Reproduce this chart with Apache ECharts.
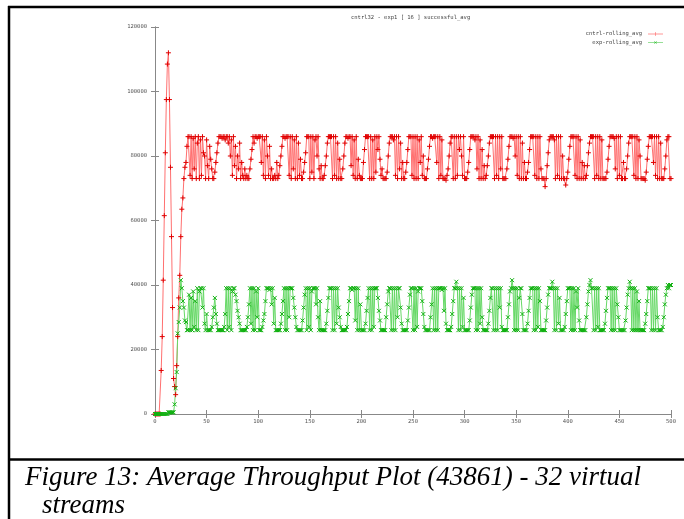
<!DOCTYPE html>
<html>
<head>
<meta charset="utf-8">
<script src="https://cdn.jsdelivr.net/npm/echarts@6/dist/echarts.min.js"></script>
<style>
  html, body { margin: 0; padding: 0; background: #fff; }
  #main { width: 684px; height: 519px; }
</style>
</head>
<body>
<div id="main"></div>
<script>
// values, in thousands, one point per x step (x = 0..500)
var cntrlAvg = [
    0, 0, 0, 0, 0, 0, 13.5, 24, 41.5, 61.5,
    81, 97.5, 108.5, 112, 97.5, 76.5, 55, 33, 11, 8.5,
    6, 15, 24, 36, 43, 55, 63.5, 67, 73, 76.5,
    78, 83, 86,
    86, 74, 86, 73, 85.5, 76, 86, 73, 84, 86,
    73, 85, 74, 86, 81, 80, 73, 85, 77, 73,
    83, 79, 76, 73, 73, 75, 78, 81, 84, 86,
    86, 86, 85.5, 86, 86, 85, 86, 86, 84, 86,
    80, 85, 74, 86, 77, 83, 73, 80, 76, 84,
    73, 78, 74, 73, 76, 73, 74, 73, 73, 76,
    79, 82, 86, 84, 86, 86, 85.5, 86, 86, 86,
    78, 86, 74, 85, 73, 86, 80, 74, 83, 73,
    76, 73, 73, 74, 73, 78, 73, 74, 77, 80,
    83, 86, 86, 85.5, 86, 86, 86, 74, 86, 73,
    86, 76, 85, 73, 86, 73, 84, 74, 79, 73,
    73, 75, 78, 81, 86, 86, 86, 73, 86, 75,
    86, 73, 85, 86, 80, 86, 76, 73, 77, 73,
    73, 74, 77, 80, 84, 86, 86, 86, 86, 73,
    86, 74, 86, 73, 84, 73, 79, 73, 73, 76,
    80, 84, 86, 86, 85.5, 86, 86, 77, 86, 74,
    85, 73, 86, 73, 79, 74, 73, 73, 73, 78,
    82, 86, 86, 86, 86, 73, 86, 73, 85, 73,
    86, 75, 86, 82, 86, 79, 74, 76, 73, 73,
    73, 73, 75, 80, 84, 86, 86, 86, 85, 86,
    74, 86, 73, 86, 76, 84, 73, 78, 73, 73,
    75, 78, 82, 86, 86, 86, 74, 86, 73, 86,
    73, 86, 73, 85, 78, 86, 74, 80, 73, 73,
    73, 76, 79, 83, 86, 86, 85.5, 86, 86, 86,
    78, 86, 73, 86, 74, 85, 73, 73, 73, 72.5,
    74, 76, 80, 84, 86, 86, 73, 86, 73, 86,
    74, 86, 82, 86, 80, 74, 86, 73, 73, 73,
    75, 78, 82, 86, 86, 86, 86, 85, 86, 76,
    86, 73, 85, 73, 82, 73, 77, 73, 74, 77,
    80, 84, 86, 86, 86, 86, 73, 86, 74, 86,
    73, 86, 76, 86, 73, 73, 73, 73, 76, 79,
    83, 86, 86, 86, 85.5, 86, 80, 86, 74, 86,
    73, 86, 73, 84, 73, 78, 73, 73, 75, 78,
    82, 86, 86, 86, 86, 74, 86, 73, 86, 73,
    86, 76, 73, 73, 73, 70.5, 73, 77, 81, 85,
    86, 86, 86, 86, 85, 73, 86, 74, 86, 73,
    86, 73, 80, 73, 73, 71, 73, 75, 79, 83,
    86, 86, 86, 86, 74, 86, 73, 86, 73, 85,
    73, 78, 73, 77, 73, 74, 77, 81, 84, 86,
    86, 86, 86, 73, 86, 74, 86, 73, 86, 73,
    85, 73, 73, 73, 73, 75, 79, 83, 86, 86,
    86, 86, 85.5, 76, 86, 73, 86, 74, 86, 73,
    73, 78, 73, 73, 76, 80, 84, 86, 86, 86,
    86, 74, 86, 73, 86, 73, 85, 80, 73, 73,
    73, 73, 72.5, 75, 79, 83, 86, 86, 86, 86,
    78, 86, 74, 86, 73, 86, 73, 84, 73, 73,
    73, 76, 80, 85, 86, 86, 73, 73
];
var expAvg = [
    0, 0, 0, 0, 0, 0, 0, 0, 0, 0,
    0, 0, 0, 0.5, 0.5, 0.5, 0.5, 0.5, 0.5, 3,
    8, 13, 25, 28.5, 33, 41.5, 39, 35, 33, 29,
    28.5, 26, 26,
    37, 26, 36, 26, 38, 27, 35, 26, 39, 26,
    38, 39, 39, 33, 39, 28, 26, 31, 26, 26,
    26, 26, 27, 30, 33, 36, 31, 28, 26, 26,
    26, 26, 26, 26, 27, 31, 39, 26, 39, 27,
    39, 26, 38, 39, 39, 37, 35, 32, 30, 28,
    26, 26, 26, 26, 26, 26, 27, 30, 34, 39,
    28, 39, 26, 39, 26, 38, 30, 39, 26, 26,
    26, 27, 29, 31, 35, 39, 39, 39, 38.5, 39,
    34, 39, 28, 36, 26, 26, 26, 26, 26, 28,
    31, 35, 39, 26, 39, 26, 39, 30, 39, 39,
    39, 36, 33, 30, 27, 26, 26, 26, 26, 26,
    29, 33, 37, 39, 26, 39, 27, 39, 26, 38,
    39, 39, 39, 34, 39, 30, 26, 35, 26, 26,
    26, 26, 26, 28, 32, 36, 39, 39, 39, 26,
    39, 26, 39, 28, 39, 33, 30, 27, 26, 26,
    26, 26, 26, 27, 31, 35, 39, 39, 38.5, 39,
    39, 29, 39, 26, 39, 26, 34, 26, 26, 26,
    26, 28, 32, 36, 39, 26, 39, 26, 39, 27,
    39, 39, 39, 36, 32, 29, 26, 26, 26, 26,
    26, 30, 34, 38, 39, 39, 26, 39, 26, 39,
    26, 39, 30, 39, 39, 33, 28, 26, 26, 26,
    26, 26, 29, 33, 37, 39, 39, 26, 39, 26,
    39, 27, 38, 39, 39, 39, 35, 31, 27, 26,
    26, 26, 26, 26, 30, 34, 39, 26, 39, 26,
    39, 26, 39, 39, 39, 38.5, 39, 32, 39, 28,
    26, 26, 26, 26, 27, 31, 35, 39, 39, 41,
    39, 26, 39, 26, 39, 27, 36, 26, 26, 26,
    26, 26, 29, 33, 37, 39, 39, 39, 26, 39,
    26, 39, 28, 39, 30, 26, 26, 26, 26, 26,
    28, 32, 36, 39, 39, 26, 39, 26, 39, 26,
    39, 33, 39, 27, 26, 26, 26, 26, 26, 30,
    34, 38, 39, 41.5, 39, 26, 39, 26, 39, 26,
    36, 39, 39, 31, 26, 26, 26, 26, 28, 32,
    36, 39, 39, 39, 26, 39, 26, 39, 27, 39,
    35, 26, 26, 26, 26, 26, 29, 33, 37, 39,
    39, 39, 41, 39, 26, 39, 26, 39, 28, 36,
    26, 26, 26, 26, 27, 31, 35, 39, 39, 39,
    26, 39, 26, 39, 26, 38, 33, 39, 29, 26,
    26, 26, 26, 26, 26, 30, 34, 38, 40, 41.5,
    39, 39, 26, 39, 26, 39, 27, 39, 26, 26,
    26, 26, 26, 28, 32, 36, 39, 39, 39, 26,
    39, 26, 39, 26, 39, 34, 30, 26, 26, 26,
    26, 26, 26, 29, 33, 37, 39, 41, 39, 26,
    39, 26, 39, 26, 38, 26, 35, 26, 26, 26,
    26, 26, 28, 31, 35, 39, 39, 39, 26, 39,
    26, 39, 26, 39, 30, 26, 26, 26, 26, 27,
    30, 34, 37, 39, 40, 39, 40, 40
];
var seriesNames = ['cntrl-rolling_avg', 'exp-rolling_avg'];
var chartTitle = 'cntrl32 - exp1 [ 16 ] successful_avg';
var captionLines = ['Figure 13: Average Throughput Plot (43861) - 32 virtual', 'streams'];

(function () {
    var myChart = echarts.init(document.getElementById('main'), null, { renderer: 'canvas' });

    // x = index of the point, y converted from thousands
    function toPairs(arr) {
        return arr.map(function (v, i) { return [i, v * 1000]; });
    }

    var tickFont = { fontSize: 5.5, color: '#555', fontFamily: 'DejaVu Sans Mono' };
    var plusPath = 'path://M0,5L10,5M5,0L5,10';
    var crossPath = 'path://M0,0L10,10M10,0L0,10';
    // legend keys: line sample with the point mark in the middle (thin filled shapes)
    var plusKey = 'path://M0,4.6H30V5.4H0Z M14.6,1H15.4V9H14.6Z';
    var crossKey = 'path://M0,4.6H30V5.4H0Z M12,2.4L12.6,1.8L18,7.6L17.4,8.2Z M17.4,1.8L18,2.4L12.6,8.2L12,7.6Z';

    var option = {
        animation: false,
        grid: { left: 155, top: 27, width: 516, height: 387 },
        legend: {
            right: 21, top: 31, orient: 'vertical', align: 'right', padding: 0,
            itemWidth: 15, itemHeight: 5, itemGap: 2.5,
            textStyle: { fontSize: 5.5, color: '#444', fontFamily: 'DejaVu Sans Mono', padding: [0, 1, 0, 0] },
            data: [
                { name: seriesNames[0], icon: plusKey, itemStyle: { color: '#ff3030', borderWidth: 0 } },
                { name: seriesNames[1], icon: crossKey, itemStyle: { color: '#30c030', borderWidth: 0 } }
            ]
        },
        xAxis: [{
            type: 'value', min: 0, max: 500, interval: 50,
            axisLine: { lineStyle: { color: '#888' } },
            axisTick: { inside: true, length: 4, lineStyle: { color: '#888' } },
            axisLabel: Object.assign({ margin: 5 }, tickFont),
            splitLine: { show: false }
        }, {
            type: 'value', min: 0, max: 500, interval: 50, position: 'top',
            axisLine: { lineStyle: { color: '#888' } },
            axisTick: { inside: true, length: 4, lineStyle: { color: '#888' } },
            axisLabel: { show: false },
            splitLine: { show: false }
        }],
        yAxis: [{
            type: 'value', min: 0, max: 120000, interval: 20000,
            axisLine: { show: true, lineStyle: { color: '#888' } },
            axisTick: { show: true, inside: true, length: 4, lineStyle: { color: '#888' } },
            axisLabel: Object.assign({
                margin: 8,
                formatter: function (v) { return String(v); }   // no thousands separator
            }, tickFont),
            splitLine: { show: false }
        }, {
            type: 'value', min: 0, max: 120000, interval: 20000, position: 'right',
            axisLine: { show: true, lineStyle: { color: '#888' } },
            axisTick: { show: true, inside: true, length: 4, lineStyle: { color: '#888' } },
            axisLabel: { show: false },
            splitLine: { show: false }
        }],
        series: [{
            name: seriesNames[0],
            type: 'line',
            data: toPairs(cntrlAvg),
            symbol: plusPath,
            symbolSize: 5,
            lineStyle: { width: 1, color: '#ff7070' },
            itemStyle: { color: '#ff0000', borderColor: '#e00000', borderWidth: 1 },
            emphasis: { disabled: true }
        }, {
            name: seriesNames[1],
            type: 'line',
            data: toPairs(expAvg),
            symbol: crossPath,
            symbolSize: 4,
            lineStyle: { width: 1, color: '#66d866' },
            itemStyle: { color: '#00c000', borderColor: '#10b010', borderWidth: 1 },
            emphasis: { disabled: true }
        }],
        graphic: [
            // plot title, centred over the plot box
            {
                type: 'text', left: 351, top: 15,
                style: { text: chartTitle, font: '5.5px "DejaVu Sans Mono"', fill: '#444' }
            },
            // figure frame
            { type: 'line', shape: { x1: 8, y1: 7, x2: 684, y2: 7 }, style: { stroke: '#000', lineWidth: 2.5 } },
            { type: 'line', shape: { x1: 9, y1: 6, x2: 9, y2: 519 }, style: { stroke: '#000', lineWidth: 2.5 } },
            { type: 'line', shape: { x1: 8, y1: 459.5, x2: 684, y2: 459.5 }, style: { stroke: '#000', lineWidth: 2.5 } },
            // caption
            {
                type: 'text', left: 25, top: 464,
                style: { text: captionLines[0], font: 'italic 27px "Liberation Serif"', fill: '#000' }
            },
            {
                type: 'text', left: 42, top: 492,
                style: { text: captionLines[1], font: 'italic 27px "Liberation Serif"', fill: '#000' }
            }
        ]
    };

    myChart.setOption(option);
})();
</script>
</body>
</html>
